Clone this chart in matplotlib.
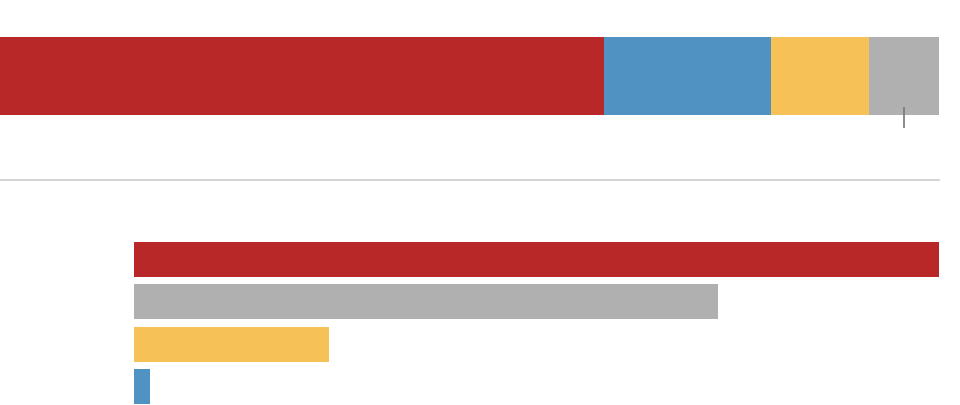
import matplotlib
matplotlib.use("Agg")
from matplotlib import pyplot as plt
from matplotlib.lines import Line2D

# top stacked bar: share of total (percent)
share_labels = ["red", "blue", "yellow", "gray"]
share_values = [64.3, 17.8, 10.4, 7.5]
marker_value = 96.3

# bottom bars
bar_labels = ["red", "gray", "yellow", "blue"]
bar_values = [100.0, 72.5, 24.2, 2.0]

colors = {
    "red": "#b92828",
    "blue": "#5093c3",
    "yellow": "#f6c156",
    "gray": "#b0b0b0",
}

W, H = 960, 405
fig = plt.figure(figsize=(W / 100, H / 100), dpi=100)


def px_axes(x0, y0, x1, y1):
    """Axes placed by pixel box (top-left origin)."""
    return fig.add_axes([x0 / W, 1 - y1 / H, (x1 - x0) / W, (y1 - y0) / H])


def clean(ax):
    ax.set_axis_off()
    ax.margins(0)


# stacked bar
ax_top = px_axes(0, 37, 939, 115)
left = 0.0
for name, val in zip(share_labels, share_values):
    ax_top.barh(0.5, val, left=left, height=1.0, color=colors[name], linewidth=0)
    left += val
ax_top.set_xlim(0, sum(share_values))
ax_top.set_ylim(0, 1)
ax_top.plot([marker_value, marker_value], [0.1, -0.17], color="#777777",
            lw=1.2, clip_on=False, solid_capstyle="butt")
clean(ax_top)

# separator
fig.add_artist(Line2D([0, 939 / W], [1 - 180 / H] * 2, color="#cccccc", lw=1.2))

# horizontal bars
ax_bot = px_axes(134, 242, 939, 404)
pitch = 42.33
ypos = list(range(len(bar_values)))
ax_bot.barh(ypos, bar_values, height=35 / pitch,
            color=[colors[n] for n in bar_labels], linewidth=0)
half = 35 / pitch / 2
ax_bot.set_ylim(ypos[-1] + half, -half)
ax_bot.set_xlim(0, max(bar_values))
clean(ax_bot)

fig.savefig("out.png", dpi=100, facecolor="white")
